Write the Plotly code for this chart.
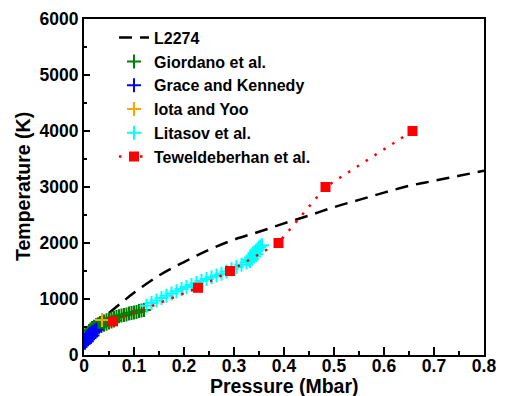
import plotly.graph_objects as go

# L2274 melting curve
l_x = [0.05, 0.08, 0.1, 0.15, 0.2, 0.25, 0.3, 0.35, 0.4, 0.45, 0.5, 0.55, 0.6, 0.65, 0.7, 0.75, 0.8]
l_y = [750, 970, 1110, 1420, 1660, 1880, 2060, 2200, 2350, 2490, 2640, 2770, 2900, 3020, 3110, 3200, 3290]

# Giordano et al.
gi_x = [0.010, 0.013, 0.016, 0.020, 0.024, 0.028, 0.032, 0.036, 0.040, 0.045, 0.050, 0.055, 0.060, 0.065,
        0.070, 0.075, 0.080, 0.085, 0.090, 0.095, 0.100, 0.105, 0.110, 0.115, 0.120,
        0.015, 0.020, 0.025, 0.030, 0.035, 0.040, 0.045, 0.050, 0.055, 0.060]
gi_y = [430, 455, 480, 505, 530, 550, 570, 585, 600, 620, 635, 650, 665, 680,
        690, 705, 715, 725, 740, 750, 760, 770, 785, 795, 805,
        410, 440, 470, 495, 520, 540, 560, 580, 600, 615]

# Grace and Kennedy
gk_x = [0.000, 0.002, 0.004, 0.006, 0.008, 0.010, 0.012, 0.014, 0.016, 0.018, 0.020, 0.022, 0.025,
        0.002, 0.005, 0.008, 0.011, 0.014, 0.017]
gk_y = [230, 265, 295, 315, 335, 355, 370, 385, 400, 410, 420, 435, 450,
        220, 250, 280, 305, 330, 350]

# Iota and Yoo
iy_x = [0.036]
iy_y = [625]

# Litasov et al.
li_x = [0.125, 0.135, 0.145, 0.155, 0.165, 0.175, 0.185, 0.195, 0.205, 0.215, 0.225, 0.235, 0.245,
        0.255, 0.265, 0.275, 0.285, 0.295, 0.305, 0.315, 0.325, 0.330, 0.334, 0.338, 0.341,
        0.344, 0.347, 0.350, 0.353, 0.356, 0.332, 0.336, 0.340, 0.345]
li_y = [880, 930, 975, 1020, 1060, 1100, 1140, 1180, 1215, 1250, 1285, 1320, 1355,
        1390, 1420, 1450, 1490, 1530, 1570, 1610, 1650, 1700, 1740, 1780, 1820,
        1860, 1890, 1920, 1940, 1960, 1680, 1720, 1760, 1800]

# Teweldeberhan et al.
te_x = [0.058, 0.228, 0.292, 0.389, 0.483, 0.657]
te_y = [600, 1200, 1500, 2000, 3000, 4000]

x_title = "Pressure (Mbar)"
y_title = "Temperature (K)"

fig = go.Figure()
fig.add_trace(go.Scatter(x=l_x, y=l_y, mode="lines", name="L2274",
                         line=dict(color="black", width=2.5, dash="13px,8px"), line_shape="spline"))

def plus_trace(x, y, name, color):
    return go.Scatter(x=x, y=y, mode="markers", name=name,
                      marker=dict(symbol="cross-thin", size=10, color=color,
                                  line=dict(color=color, width=2)))

fig.add_trace(plus_trace(gi_x, gi_y, "Giordano et al.", "#008000"))
fig.add_trace(plus_trace(gk_x, gk_y, "Grace and Kennedy", "#0000ff"))
fig.add_trace(plus_trace(iy_x, iy_y, "Iota and Yoo", "#ffa500"))
fig.add_trace(plus_trace(li_x, li_y, "Litasov et al.", "#00ffff"))
fig.add_trace(go.Scatter(x=te_x, y=te_y, mode="lines+markers", name="Teweldeberhan et al.",
                         line=dict(color="#ff0000", width=2.5, dash="2.5px,8px"),
                         marker=dict(symbol="square", size=10, color="#ff0000")))

font_family = "Liberation Sans, Arial, sans-serif"
title_font = dict(family=font_family, size=19.5, color="black", weight="bold")
axis_common = dict(showline=True, linecolor="black", linewidth=2, mirror=True,
                   ticks="inside", tickcolor="black", tickwidth=2,
                   showgrid=False, zeroline=False, automargin=False,
                   tickfont=dict(family=font_family, size=17.5, color="black", weight="bold"))

fig.update_layout(
    width=505, height=396,
    margin=dict(l=84, r=21, t=19, b=41),
    plot_bgcolor="white", paper_bgcolor="white",
    font=dict(family=font_family, color="black"),
    showlegend=True,
    legend=dict(x=0.075, y=0.995, xanchor="left", yanchor="top",
                bgcolor="rgba(0,0,0,0)", borderwidth=0,
                font=dict(family=font_family, size=16, color="black", weight="bold")),
    xaxis=dict(range=[0, 0.8], dtick=0.1, ticklen=8, ticklabelstandoff=-6,
               minor=dict(dtick=0.05, ticks="inside", ticklen=4, tickwidth=2, tickcolor="black"),
               **axis_common),
    yaxis=dict(range=[0, 6000], dtick=1000, ticklen=6,
               minor=dict(dtick=500, ticks="inside", ticklen=3, tickwidth=2, tickcolor="black"),
               **axis_common),
    annotations=[
        dict(text=x_title, xref="paper", yref="paper", x=0.5, y=0, xanchor="center",
             yanchor="middle", yshift=-31, showarrow=False, font=title_font),
        dict(text=y_title, xref="paper", yref="paper", x=0, y=0.5, xanchor="center",
             yanchor="middle", xshift=-61, textangle=-90, showarrow=False, font=title_font),
    ],
)

fig.write_html("out.html")
